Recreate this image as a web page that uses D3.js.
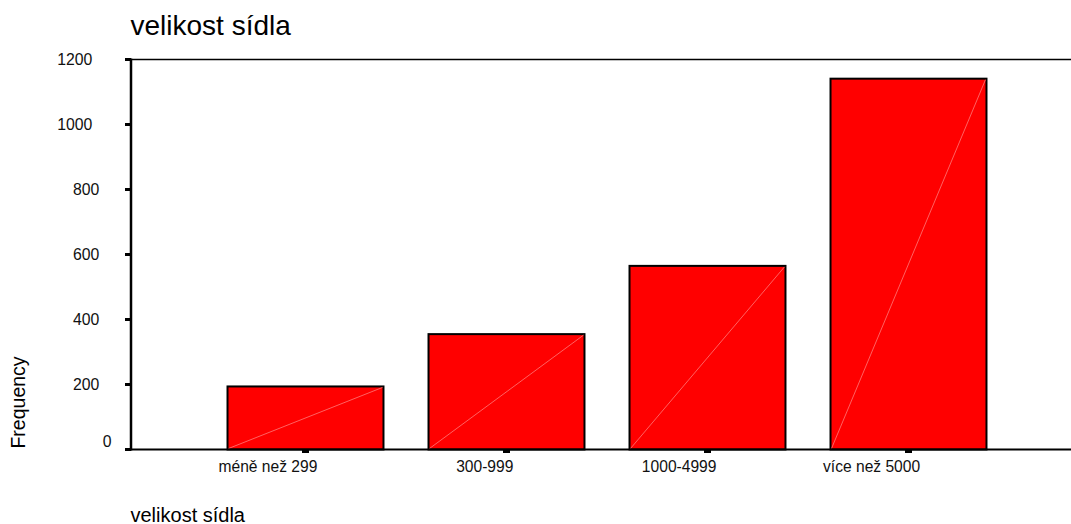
<!DOCTYPE html>
<html>
<head>
<meta charset="utf-8">
<script src="https://cdn.jsdelivr.net/npm/d3@7"></script>
<style>
  html, body { margin: 0; padding: 0; background: #fff; }
  svg { display: block; font-family: "Liberation Sans", Arial, sans-serif; }
</style>
</head>
<body>
<script>
// ---- data ----
const categories = ["méně než 299", "300-999", "1000-4999", "více než 5000"];
const frequencies = [194, 355, 565, 1141];
const yTicks = [0, 200, 400, 600, 800, 1000, 1200];
const chartTitle = "velikost sídla";
const xTitle = "velikost sídla";
const yTitle = "Frequency";

// ---- layout ----
const W = 1071, H = 524;
const plotLeft = 131, plotRight = 1071, plotTop = 59.5, plotBottom = 449.5;

const svg = d3.select("body").append("svg")
  .attr("width", W).attr("height", H);

const y = d3.scaleLinear().domain([0, 1200]).range([plotBottom, plotTop]);
const x = d3.scaleBand().domain(categories)
  .range([205, 1009]).paddingInner(0.224).paddingOuter(0.112);

// top frame line
svg.append("line")
  .attr("x1", plotLeft).attr("x2", plotRight)
  .attr("y1", y(1200)).attr("y2", y(1200))
  .attr("stroke", "#000").attr("stroke-width", 1.5);

// bars
const bars = svg.append("g");
bars.selectAll("rect").data(frequencies).join("rect")
  .attr("x", (d, i) => x(categories[i]))
  .attr("y", d => y(d))
  .attr("width", x.bandwidth())
  .attr("height", d => y(0) - y(d))
  .attr("fill", "#ff0000")
  .attr("stroke", "#000").attr("stroke-width", 2);
bars.selectAll("line.diag").data(frequencies).join("line")
  .attr("class", "diag")
  .attr("x1", (d, i) => x(categories[i]) + 1)
  .attr("y1", y(0) - 1)
  .attr("x2", (d, i) => x(categories[i]) + x.bandwidth() - 1)
  .attr("y2", d => y(d) + 1)
  .attr("stroke", "#ff7a7a").attr("stroke-width", 0.8);

// baseline (x axis)
svg.append("line")
  .attr("x1", plotLeft).attr("x2", plotRight)
  .attr("y1", y(0)).attr("y2", y(0))
  .attr("stroke", "#000").attr("stroke-width", 2);

// x category ticks
svg.append("g").selectAll("rect").data(categories).join("rect")
  .attr("x", d => x(d) + x.bandwidth() / 2 - 3.5)
  .attr("y", y(0))
  .attr("width", 7).attr("height", 3.5)
  .attr("fill", "#000");

// x labels
svg.append("g").selectAll("text").data(categories).join("text")
  .attr("y", 471.5)
  .attr("font-size", 15.6)
  .attr("fill", "#111")
  .attr("text-anchor", "middle")
  .text(d => d)
  .each(function(d) {
    const w = this.getComputedTextLength();
    d3.select(this).attr("x", x(d) + x.bandwidth() / 2 - 0.38 * w);
  });

// y axis line
svg.append("line")
  .attr("x1", plotLeft).attr("x2", plotLeft)
  .attr("y1", y(1200) - 1).attr("y2", y(0) + 1)
  .attr("stroke", "#000").attr("stroke-width", 2.5);

// y ticks
svg.append("g").selectAll("rect").data(yTicks).join("rect")
  .attr("x", 125).attr("y", d => y(d) - 1.5)
  .attr("width", 6).attr("height", 3)
  .attr("fill", "#000");

// y labels
svg.append("g").selectAll("text").data(yTicks).join("text")
  .attr("font-size", 15.8)
  .attr("fill", "#111")
  .attr("text-anchor", "end")
  .attr("dominant-baseline", "central")
  .attr("y", d => y(d) - (d === 0 ? 8.5 : 0))
  .text(d => d)
  .each(function(d) {
    const w = this.getComputedTextLength();
    d3.select(this).attr("x", 120.5 - 0.8 * w - (d === 0 ? 2 : 0));
  });

// titles
svg.append("text")
  .attr("x", 130.5).attr("y", 35)
  .attr("font-size", 28).attr("fill", "#000")
  .text(chartTitle);

svg.append("text")
  .attr("x", 130.5).attr("y", 521.5)
  .attr("font-size", 20).attr("fill", "#000")
  .text(xTitle);

svg.append("text")
  .attr("transform", "translate(25,402.5) rotate(-90)")
  .attr("text-anchor", "middle")
  .attr("font-size", 19.5).attr("fill", "#000")
  .text(yTitle);
</script>
</body>
</html>
